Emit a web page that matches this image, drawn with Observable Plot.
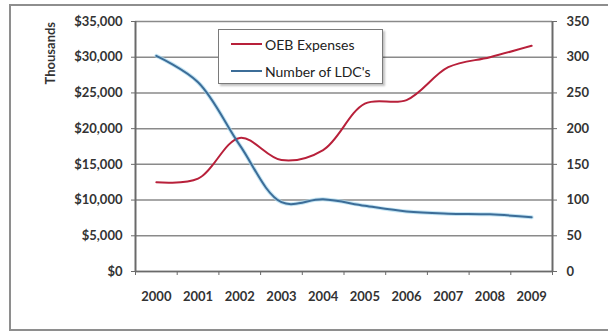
<!DOCTYPE html>
<html><head><meta charset="utf-8">
<script src="https://cdn.jsdelivr.net/npm/d3@7"></script>
<script src="https://cdn.jsdelivr.net/npm/@observablehq/plot@0.6"></script>
<style>
html,body{margin:0;padding:0;background:#fff;overflow:hidden;width:608px;height:332px;}
#wrap{position:relative;width:608px;height:332px;}
#border{position:absolute;left:9px;top:4px;width:640px;height:327px;border:2px solid #8e8e8e;box-sizing:border-box;}
#chart{position:absolute;left:0;top:0;}
#legend{position:absolute;left:218px;top:29px;width:165px;height:55px;border:1px solid #7a7a7a;background:#fff;box-shadow:2px 2px 2px rgba(0,0,0,0.25);font:14px Lato, sans-serif;color:#222;box-sizing:border-box;}
.item{position:absolute;left:12px;height:18px;display:flex;align-items:center;}
.sw{width:31px;height:2px;margin-right:3px;}
</style></head>
<body>
<div id="wrap">
<div id="border"></div>
<div id="chart"></div>
<div id="legend"></div>
</div>
<script>
const years = [2000, 2001, 2002, 2003, 2004, 2005, 2006, 2007, 2008, 2009];
const oebExpenses = [12500, 13000, 18700, 15600, 17000, 23500, 24000, 28600, 30000, 31600];
const ldcCount = [302, 265, 177, 97, 101, 92, 84, 81, 80, 76];
const leftTicks = [0, 5000, 10000, 15000, 20000, 25000, 30000, 35000];
const rightTicks = [0, 50, 100, 150, 200, 250, 300, 350];
const seriesNames = ["OEB Expenses", "Number of LDC's"];
const seriesColors = ["#b8203a", "#3c6d98"];
const ratio = 100; // right axis units -> left axis units

const oebData = years.map((y, i) => ({year: y, value: oebExpenses[i]}));
const ldcData = years.map((y, i) => ({year: y, value: ldcCount[i] * ratio}));
const boundaries = [years[0] - 0.5, ...years.map(y => y + 0.5)];

const chart = Plot.plot({
  width: 608,
  height: 332,
  marginLeft: 135,
  marginRight: 56,
  marginTop: 21,
  marginBottom: 61,
  style: {fontFamily: "Lato, sans-serif", fontSize: "13px", fontWeight: "bold", color: "#333", background: "transparent"},
  x: {domain: [boundaries[0], boundaries[boundaries.length - 1]]},
  y: {domain: [0, 35000]},
  marks: [
    Plot.ruleY(leftTicks, {stroke: "#8a8a8a", strokeWidth: 1.5}),
    Plot.ruleY([0], {stroke: "#6a6a6a", strokeWidth: 1.5}),
    Plot.ruleX([boundaries[0], boundaries[boundaries.length - 1]], {y1: 0, y2: 35000, stroke: "#6a6a6a", strokeWidth: 2}),
    Plot.axisY({anchor: "left", ticks: leftTicks, tickFormat: d => "$" + d3.format(",")(d), tickSize: 4, tickPadding: 9, stroke: "#6a6a6a", label: null}),
    Plot.axisY({anchor: "right", ticks: rightTicks.map(v => v * ratio), tickFormat: d => String(d / ratio), tickSize: 4, tickPadding: 10, stroke: "#6a6a6a", label: null}),
    Plot.axisX({ticks: boundaries, tickFormat: () => "", tickSize: 4, stroke: "#6a6a6a", label: null}),
    Plot.axisX({ticks: years, tickFormat: d => String(d), tickSize: 0, tickPadding: 20, label: null}),
    Plot.text(["Thousands"], {frameAnchor: "top-left", rotate: -90, dx: -90, dy: 63, fill: "#333", fontWeight: "bold", fontSize: 13}),
    Plot.line(ldcData, {x: "year", y: "value", stroke: "#a9d8ee", strokeWidth: 4, curve: "catmull-rom", strokeOpacity: 0.7}),
    Plot.line(oebData, {x: "year", y: "value", stroke: seriesColors[0], strokeWidth: 2, curve: "catmull-rom"}),
    Plot.line(ldcData, {x: "year", y: "value", stroke: seriesColors[1], strokeWidth: 2, curve: "catmull-rom"})
  ]
});
document.getElementById("chart").appendChild(chart);

const legend = document.getElementById("legend");
seriesNames.forEach((name, i) => {
  const it = document.createElement("div");
  it.className = "item";
  it.style.top = (5 + i * 27) + "px";
  it.innerHTML = `<span class="sw" style="background:${seriesColors[i]}"></span><span>${name}</span>`;
  legend.appendChild(it);
});
</script>
</body></html>
